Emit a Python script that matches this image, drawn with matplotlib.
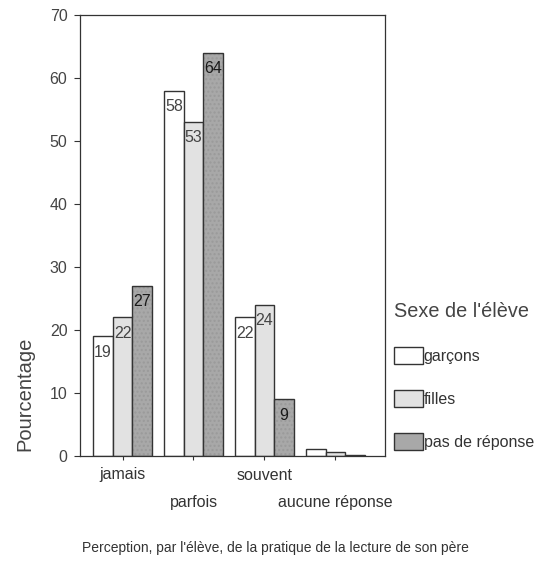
import numpy as np
import matplotlib.pyplot as plt

categories = ["jamais", "parfois", "souvent", "aucune réponse"]
groups = ["garçons", "filles", "pas de réponse"]
garcons = [19, 58, 22, 1.1]
filles = [22, 53, 24, 0.6]
pas_reponse = [27, 64, 9, 0.1]
labels_shown = [[19, 58, 22, None], [22, 53, 24, None], [27, 64, 9, None]]

colors = ["#ffffff", "#e2e2e2", "#a8a8a8"]
text_colors = ["#444444", "#444444", "#1a1a1a"]

plt.rcParams['font.family'] = ['Liberation Sans', 'DejaVu Sans']

fig = plt.figure(figsize=(5.38, 5.61), dpi=100)
ax = fig.add_axes([80/538, 1-456/561, 305/538, 441/561])

x = np.arange(len(categories))
w = 0.275
series = [garcons, filles, pas_reponse]
handles = []
for i, vals in enumerate(series):
    if i == 2:
        # light stipple under the outline of the dark bars
        ax.bar(x + (i-1)*w, vals, w, color=colors[i], edgecolor="#9a9a9a",
               linewidth=0, hatch="....")
    bars = ax.bar(x + (i-1)*w, vals, w, color=colors[i] if i < 2 else "none",
                  edgecolor="#333333", linewidth=1.0, label=groups[i])
    handles.append(plt.Rectangle((0, 0), 1, 1, facecolor=colors[i],
                                 edgecolor="#333333", linewidth=1.0))
    for b, lab in zip(bars, labels_shown[i]):
        if lab is None:
            continue
        ax.text(b.get_x() + b.get_width()/2, b.get_height() - 2.5, str(lab),
                ha="center", va="center", fontsize=11.5, color=text_colors[i])

ax.set_xlim(-0.6, 3.7)
ax.set_ylim(0, 70)
ax.set_yticks(range(0, 71, 10))
ax.tick_params(axis="y", labelsize=11.5, length=4, pad=5, colors="#333333",
               labelcolor="#444444")
ax.set_xticks(x)
ax.set_xticklabels([])
ax.tick_params(axis="x", length=3, colors="#333333")
for s in ax.spines.values():
    s.set_color("#333333")
    s.set_linewidth(0.9)

for i, c in enumerate(categories):
    ypix = 475 if i % 2 == 0 else 503
    fig.text((80 + 305*(x[i] + 0.6)/4.3)/538, 1-ypix/561, c,
             ha="center", va="center", fontsize=11.5, color="#333333")

fig.text(25/538, 1-394/561, "Pourcentage", rotation=90, ha="center", va="center",
         fontsize=14.5, color="#444444")

leg = fig.legend(handles, groups, loc="upper left",
                 bbox_to_anchor=(386/538, 1-294/561), frameon=False, borderpad=0,
                 title="Sexe de l'élève", title_fontsize=14.3, fontsize=11.5,
                 handlelength=1.8, handleheight=1.2, handletextpad=0.05,
                 labelspacing=1.65, alignment="left")
for t in leg.get_texts():
    t.set_color("#333333")
leg.get_title().set_color("#444444")

fig.text(275/538, 1-548/561, "Perception, par l'élève, de la pratique de la lecture de son père",
         ha="center", va="center", fontsize=10, color="#333333")

fig.savefig("out.png", dpi=100)
